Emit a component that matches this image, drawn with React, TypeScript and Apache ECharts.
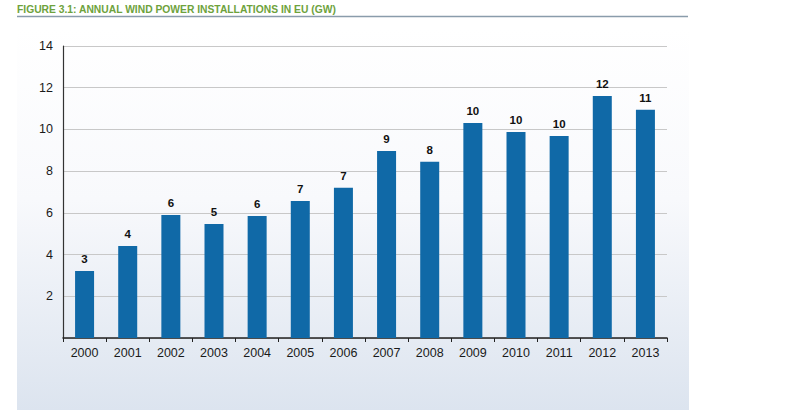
import React, { useEffect, useRef } from "react";
import * as echarts from "echarts";

const years = ["2000", "2001", "2002", "2003", "2004", "2005", "2006", "2007", "2008", "2009", "2010", "2011", "2012", "2013"];
const installedGW = [3.21, 4.41, 5.9, 5.47, 5.85, 6.57, 7.2, 8.96, 8.45, 10.31, 9.88, 9.69, 11.6, 10.94];
const titleText = "FIGURE 3.1: ANNUAL WIND POWER INSTALLATIONS IN EU (GW)";

export default function App() {
  const ref = useRef<HTMLDivElement>(null);
  useEffect(() => {
    document.body.style.margin = "0";
    const chart = echarts.init(ref.current!, null, { renderer: "svg" });
    const font = "'Liberation Sans', Arial, sans-serif";
    chart.setOption({
      animation: false,
      backgroundColor: "#ffffff",
      graphic: [
        {
          type: "rect",
          z: -10,
          silent: true,
          shape: { x: 17, y: 28, width: 672, height: 382 },
          style: {
            fill: new echarts.graphic.LinearGradient(0, 0, 0, 1, [
              { offset: 0, color: "#ffffff" },
              { offset: 0.45, color: "#f8f9fc" },
              { offset: 1, color: "#dce4ef" },
            ]),
          },
        },
        {
          type: "line",
          shape: { x1: 17, y1: 16.5, x2: 688, y2: 16.5 },
          style: { stroke: "#8a9cab", lineWidth: 1.5 },
        },
        {
          type: "text",
          left: 17,
          top: 4,
          style: {
            text: titleText,
            fill: "#6ea23c",
            font: "bold 10.3px 'Liberation Sans', Arial, sans-serif",
          },
        },
      ],
      grid: { left: 63, right: 130, top: 46, bottom: 81 },
      xAxis: {
        type: "category",
        data: years,
        axisLine: { lineStyle: { color: "#222", width: 1.5 } },
        axisTick: { show: true, length: 4, lineStyle: { color: "#222" } },
        axisLabel: { color: "#1a1a1a", fontSize: 12.5, fontFamily: font, margin: 8 },
      },
      yAxis: {
        type: "value",
        min: 0,
        max: 14,
        interval: 2,
        axisLine: { show: true, lineStyle: { color: "#333", width: 1.2 } },
        axisTick: { show: false },
        axisLabel: {
          color: "#1a1a1a",
          fontSize: 12.5,
          fontFamily: font,
          margin: 10,
          formatter: (v: number) => (v === 0 ? "" : String(v)),
        },
        splitLine: { lineStyle: { color: "#c8c8c8", width: 1 } },
      },
      series: [
        {
          type: "bar",
          data: installedGW,
          barWidth: 19,
          itemStyle: { color: "#1069a7" },
          label: {
            show: true,
            position: "top",
            distance: 6,
            color: "#111",
            fontWeight: "bold",
            fontSize: 11.5,
            fontFamily: font,
            formatter: (p: any) => String(Math.round(p.value)),
          },
        },
      ],
    });
    return () => chart.dispose();
  }, []);
  return <div ref={ref} style={{ width: 797, height: 419 }} />;
}
